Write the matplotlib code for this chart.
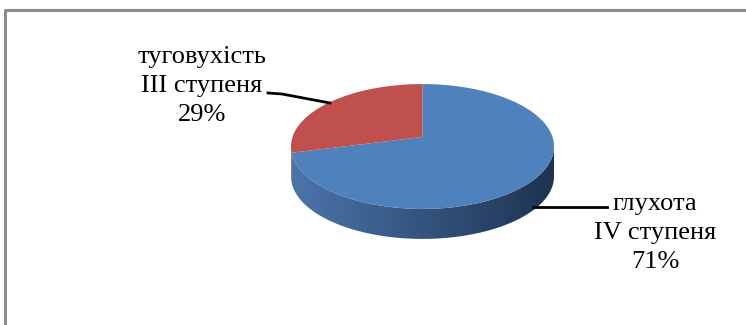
import numpy as np
import matplotlib.pyplot as plt
from matplotlib import transforms as mtransforms
from matplotlib.colors import LinearSegmentedColormap
from matplotlib.patches import PathPatch
from matplotlib.path import Path

labels = ["глухота\nIV ступеня", "туговухість\nIII ступеня"]
shares = [71, 29]
colors = ["#4f81bd", "#c0504d"]

W, H = 746, 325
cx, cy = 422.5, 137      # pie centre in pixels
rx, s = 130.0, 61.0      # horizontal radius, vertical scale
k = 0.152                # perspective strength (far edge shrinks)
depth = 30               # rim height, pixels


class Tilt(mtransforms.Transform):
    """Unit disc -> tilted, perspective-projected disc in pixel coordinates."""
    input_dims = output_dims = 2
    is_separable = False
    has_inverse = False

    def __init__(self, drop=0.0):
        super().__init__()
        self.drop = drop

    def transform_non_affine(self, values):
        xy = np.asarray(values, dtype=float)
        d = 1 + k * xy[:, 1]
        return np.column_stack([cx + rx * xy[:, 0] / d,
                                cy - s * xy[:, 1] / d + self.drop])

    def transform_path_non_affine(self, path):
        # flatten curves at a fine scale so arcs stay smooth after projection
        big = mtransforms.Affine2D().scale(1000)
        verts, codes = [], []
        for p in path.to_polygons(transform=big, closed_only=True):
            p = np.asarray(p) / 1000
            verts.append(self.transform_non_affine(p))
            c = np.full(len(p), Path.LINETO, dtype=Path.code_type)
            c[0] = Path.MOVETO
            c[-1] = Path.CLOSEPOLY
            codes.append(c)
        return Path(np.concatenate(verts), np.concatenate(codes))


fig = plt.figure(figsize=(W / 100, H / 100), dpi=100)
ax = fig.add_axes([0, 0, 1, 1])

wedges, _ = ax.pie(shares, colors=colors, startangle=90, counterclock=False,
                   wedgeprops=dict(linewidth=0))
ax.set_aspect("auto")
ax.axis("off")

top = Tilt() + ax.transData
for w in wedges:
    w.set_transform(top)
    w.set_zorder(3)

# page frame: grey rules on top and left
ax.plot([5, 5, W], [H, 9.5, 9.5], color="#8c8c8c", lw=2.2, solid_capstyle="butt")

# visible rim runs between the silhouette points where sin(theta) = -k
lo_a = 180 + np.degrees(np.arcsin(k))
hi_a = 360 - np.degrees(np.arcsin(k))
rim_cmaps = {
    colors[0]: LinearSegmentedColormap.from_list("b", ["#4c75ab", "#34547e", "#1e3250"]),
    colors[1]: LinearSegmentedColormap.from_list("r", ["#9c3d3a", "#7a2c2a", "#5a1f1d"]),
}
grad = np.linspace(0, 1, 256).reshape(1, -1)
up, down = Tilt(), Tilt(depth)
for w, c in zip(wedges, colors):
    for shift in (-360, 0, 360):
        a, b = max(w.theta1 + shift, lo_a), min(w.theta2 + shift, hi_a)
        if b <= a:
            continue
        t = np.radians(np.linspace(a, b, 200))
        ring = np.column_stack([np.cos(t), np.sin(t)])
        verts = np.concatenate([up.transform(ring), down.transform(ring[::-1])])
        rim = PathPatch(Path(verts, closed=False), facecolor="none", edgecolor="none")
        ax.add_patch(rim)
        im = ax.imshow(grad, cmap=rim_cmaps[c], aspect="auto", zorder=2,
                       extent=[cx - rx * 1.02, cx + rx * 1.02, cy + 140, cy - 20],
                       interpolation="bilinear")
        im.set_clip_path(rim)

ax.set_xlim(0, W)
ax.set_ylim(H, 0)

# labels with leader lines
font = dict(family="Liberation Serif", fontsize=19, ha="center", va="center",
            linespacing=1.4)
ax.text(202, 86, f"{labels[1]}\n{shares[1]}%", **font)
ax.text(655, 233, f"{labels[0]}\n{shares[0]}%", **font)
ax.plot([268, 282, 330], [93, 94, 103], color="black", lw=2, zorder=5)
ax.plot([533, 607], [207, 207], color="black", lw=2, zorder=5)

fig.savefig("out.png", dpi=100)
